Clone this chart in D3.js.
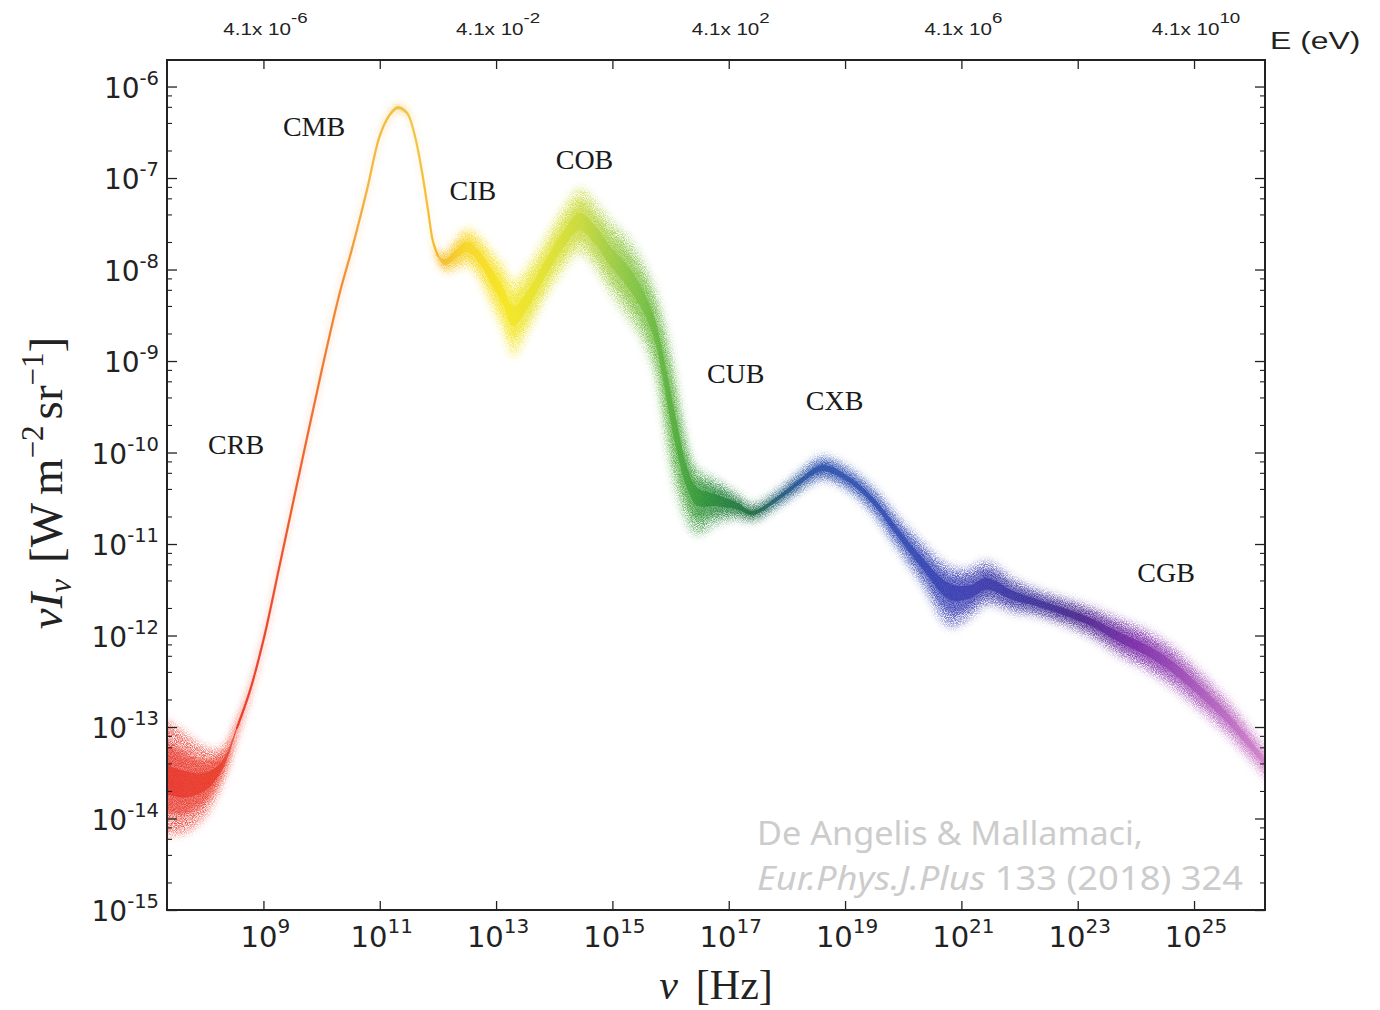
<!DOCTYPE html>
<html><head><meta charset="utf-8">
<script src="https://cdn.jsdelivr.net/npm/d3@7"></script>
<style>body{margin:0;background:#fff}svg{display:block}</style>
</head><body>
<svg id="c" width="1380" height="1010"></svg>
<script>
// ---- data (log10 units) ----
const logNu  = [7.20, 7.34, 7.65, 7.99, 8.29, 8.545, 8.77, 9.00, 9.28, 9.63, 10.01, 10.31, 10.52, 10.78, 11.00, 11.17, 11.31, 11.47, 11.60, 11.72, 11.83, 11.91, 12.00, 12.12, 12.29, 12.50, 12.72, 12.89, 13.12, 13.29, 13.54, 13.80, 14.15, 14.44, 14.70, 14.95, 15.25, 15.52, 15.73, 15.85, 15.98, 16.12, 16.28, 16.45, 16.79, 17.14, 17.41, 17.87, 18.22, 18.60, 19.03, 19.47, 19.88, 20.33, 20.80, 21.14, 21.43, 21.88, 22.29, 22.81, 23.25, 23.72, 24.18, 24.63, 25.09, 25.56, 25.90, 26.21, 26.32];
const logMid = [-13.55, -13.58, -13.63, -13.60, -13.42, -13.01, -12.60, -12.05, -11.23, -10.19, -9.08, -8.26, -7.78, -7.13, -6.54, -6.31, -6.23, -6.29, -6.53, -6.91, -7.35, -7.68, -7.85, -7.92, -7.84, -7.75, -7.87, -8.04, -8.28, -8.50, -8.33, -8.04, -7.68, -7.48, -7.62, -7.84, -8.06, -8.33, -8.66, -8.99, -9.43, -9.86, -10.25, -10.46, -10.52, -10.58, -10.66, -10.49, -10.32, -10.17, -10.28, -10.52, -10.85, -11.21, -11.50, -11.52, -11.44, -11.56, -11.64, -11.75, -11.86, -12.02, -12.16, -12.34, -12.60, -12.89, -13.14, -13.38, -13.47];
const spreadUp = [0.40, 0.38, 0.33, 0.22, 0.11, 0.044, 0.027, 0.02, 0.016, 0.016, 0.016, 0.016, 0.016, 0.016, 0.016, 0.016, 0.016, 0.016, 0.016, 0.016, 0.016, 0.016, 0.033, 0.066, 0.098, 0.12, 0.14, 0.16, 0.20, 0.22, 0.22, 0.20, 0.21, 0.22, 0.22, 0.23, 0.25, 0.25, 0.26, 0.30, 0.36, 0.32, 0.22, 0.17, 0.13, 0.077, 0.055, 0.055, 0.066, 0.077, 0.077, 0.087, 0.098, 0.13, 0.15, 0.15, 0.15, 0.11, 0.087, 0.087, 0.098, 0.12, 0.13, 0.13, 0.13, 0.12, 0.11, 0.10, 0.10];
const spreadDown = [0.37, 0.35, 0.31, 0.22, 0.11, 0.044, 0.027, 0.02, 0.016, 0.016, 0.016, 0.016, 0.016, 0.016, 0.016, 0.016, 0.016, 0.016, 0.016, 0.016, 0.016, 0.016, 0.033, 0.066, 0.098, 0.13, 0.15, 0.19, 0.24, 0.27, 0.22, 0.20, 0.20, 0.20, 0.22, 0.24, 0.27, 0.27, 0.28, 0.32, 0.38, 0.36, 0.30, 0.26, 0.15, 0.087, 0.055, 0.055, 0.066, 0.077, 0.077, 0.087, 0.11, 0.14, 0.24, 0.17, 0.13, 0.11, 0.087, 0.087, 0.098, 0.12, 0.13, 0.14, 0.13, 0.12, 0.11, 0.10, 0.10];

const colorNu  = [7.34, 9.0, 9.6, 10.3, 10.8, 11.5, 12.0, 12.5, 13.2, 14.0, 14.5, 15.0, 15.5, 16.1, 16.6, 17.4, 17.9, 18.4, 19.0, 20.0, 21.0, 22.0, 23.0, 24.0, 25.0, 26.2];
const colorHex = ["#e8352a", "#ea3d26", "#ec5a28", "#f0842c", "#f2b23a", "#f0c444", "#f5b620", "#f7d620", "#f5e61e", "#dce030", "#c4d838", "#9ccc40", "#78c040", "#4eaa38", "#2a9038", "#1c6c3e", "#1f5878", "#2850a8", "#2e50b0", "#3048b2", "#3a3cb2", "#3a34a0", "#48288e", "#7a2aa8", "#a452b8", "#d080c8"];

const xTickExp = [9, 11, 13, 15, 17, 19, 21, 23, 25];
const yTickExp = [-15, -14, -13, -12, -11, -10, -9, -8, -7, -6];
const yMinorMult = [2, 4, 6, 8];
const topTickExp = [9, 11, 13, 15, 17, 19, 21, 23, 25];
const topLabelExp = [9, 13, 17, 21, 25];
const topLabelText = ["-6", "-2", "2", "6", "10"];

const bgLabels = ["CRB", "CMB", "CIB", "COB", "CUB", "CXB", "CGB"];
const bgLabelNu = [8.53, 9.87, 12.60, 14.52, 17.12, 18.82, 24.52];
const bgLabelI  = [-10.02, -6.54, -7.24, -6.90, -9.24, -9.54, -11.42];

// ---- layout ----
const L = 167, R = 1265, T = 60, B = 910;
const svg = d3.select("#c");
const x = d3.scaleLog().domain([Math.pow(10, 7.342), Math.pow(10, 26.22)]).range([L, R]);
const y = d3.scaleLog().domain([1e-15, Math.pow(10, -5.71)]).range([B, T]);
const ppd = y(1e-15) - y(1e-14);

const defs = svg.append("defs");
defs.append("clipPath").attr("id", "plot").append("rect")
  .attr("x", L).attr("y", T).attr("width", R - L).attr("height", B - T);
const grad = defs.append("linearGradient").attr("id", "rainbow")
  .attr("gradientUnits", "userSpaceOnUse").attr("x1", L).attr("x2", R).attr("y1", 0).attr("y2", 0);
colorNu.forEach((n, i) => grad.append("stop")
  .attr("offset", (x(Math.pow(10, n)) - L) / (R - L)).attr("stop-color", colorHex[i]));

const sp = defs.append("filter").attr("id", "speckle").attr("filterUnits", "userSpaceOnUse")
  .attr("x", 0).attr("y", 0).attr("width", 1380).attr("height", 1010);
sp.append("feGaussianBlur").attr("in", "SourceGraphic").attr("stdDeviation", 4.5).attr("result", "b");
sp.append("feTurbulence").attr("type", "fractalNoise").attr("baseFrequency", 1.1).attr("numOctaves", 1).attr("seed", 7).attr("result", "n");
sp.append("feColorMatrix").attr("in", "n").attr("type", "matrix")
  .attr("values", "0 0 0 0 0  0 0 0 0 0  0 0 0 0 0  3.0 0 0 0 -0.95").attr("result", "m");
sp.append("feComposite").attr("in", "b").attr("in2", "m").attr("operator", "in");
const b2 = defs.append("filter").attr("id", "blur2").attr("x", "-5%").attr("y", "-20%").attr("width", "110%").attr("height", "140%");
b2.append("feGaussianBlur").attr("stdDeviation", 3);
const b1 = defs.append("filter").attr("id", "blur1").attr("x", "-5%").attr("y", "-20%").attr("width", "110%").attr("height", "140%");
b1.append("feGaussianBlur").attr("stdDeviation", 0.6);

const pts = logNu.map((n, i) => ({n, m: logMid[i], u: spreadUp[i], d: spreadDown[i]}));
function band(k, minPx) {
  return d3.area()
    .x(p => x(Math.pow(10, p.n)))
    .y1(p => y(Math.pow(10, p.m)) - Math.max(minPx, k * p.u * ppd))
    .y0(p => y(Math.pow(10, p.m)) + Math.max(minPx, k * p.d * ppd))
    .curve(d3.curveCatmullRom.alpha(0.5));
}
const g = svg.append("g").attr("clip-path", "url(#plot)");
g.append("path").attr("d", band(1.7, 2)(pts)).attr("fill", "url(#rainbow)").attr("opacity", 0.8).attr("filter", "url(#speckle)");
g.append("path").attr("d", band(1.05, 1.4)(pts)).attr("fill", "url(#rainbow)").attr("opacity", 0.6).attr("filter", "url(#blur2)");
g.append("path").attr("d", band(0.45, 1.6)(pts)).attr("fill", "url(#rainbow)").attr("opacity", 0.75).attr("filter", "url(#blur1)");
// narrow stretch (CRB -> CMB) drawn as a line so steep parts keep their width
const narrow = pts.filter(p => p.u <= 0.05);
g.append("path").attr("d", d3.line().x(p => x(Math.pow(10, p.n))).y(p => y(Math.pow(10, p.m)))
    .curve(d3.curveCatmullRom.alpha(0.5))(narrow))
  .attr("fill", "none").attr("stroke", "url(#rainbow)").attr("stroke-width", 2.3)
  .attr("stroke-linecap", "round").attr("opacity", 0.9).attr("filter", "url(#blur1)");

// ---- frame & ticks ----
const ink = "#222";
svg.append("rect").attr("x", L).attr("y", T).attr("width", R - L).attr("height", B - T)
  .attr("fill", "none").attr("stroke", ink).attr("stroke-width", 2);

const xt = xTickExp.map(e => Math.pow(10, e));
svg.append("g").attr("transform", `translate(0,${B})`)
  .call(d3.axisBottom(x).tickValues(xt).tickSize(-9).tickFormat(""))
  .call(s => { s.select(".domain").remove(); s.selectAll("line").attr("stroke", ink).attr("stroke-width", 1.3); });
svg.append("g").attr("transform", `translate(0,${T})`)
  .call(d3.axisTop(x).tickValues(topTickExp.map(e => Math.pow(10, e))).tickSize(-9).tickFormat(""))
  .call(s => { s.select(".domain").remove(); s.selectAll("line").attr("stroke", ink).attr("stroke-width", 1.3); });

const yMaj = yTickExp.map(e => Math.pow(10, e));
const yMin = [];
yTickExp.forEach(e => yMinorMult.forEach(m => { const v = m * Math.pow(10, e); if (v < y.domain()[1]) yMin.push(v); }));
[[d3.axisLeft, L], [d3.axisRight, R]].forEach(([ax, px]) => {
  svg.append("g").attr("transform", `translate(${px},0)`)
    .call(ax(y).tickValues(yMaj).tickSize(-10).tickFormat(""))
    .call(s => { s.select(".domain").remove(); s.selectAll("line").attr("stroke", ink).attr("stroke-width", 1.3); });
  svg.append("g").attr("transform", `translate(${px},0)`)
    .call(ax(y).tickValues(yMin).tickSize(-5).tickFormat(""))
    .call(s => { s.select(".domain").remove(); s.selectAll("line").attr("stroke", ink).attr("stroke-width", 1.1); });
});

// ---- tick labels ----
yTickExp.forEach(e => {
  const t = svg.append("text").attr("x", 159).attr("y", y(Math.pow(10, e)) + 11)
    .attr("text-anchor", "end").attr("font-family", "DejaVu Sans").attr("fill", ink);
  t.append("tspan").attr("font-size", 28).text("10");
  t.append("tspan").attr("font-size", 19.5).attr("dy", -13).text(String(e));
});
xTickExp.forEach(e => {
  const t = svg.append("text").attr("x", x(Math.pow(10, e)) + 2).attr("y", 947)
    .attr("text-anchor", "middle").attr("font-family", "DejaVu Sans").attr("fill", ink);
  t.append("tspan").attr("font-size", 29).text("10");
  t.append("tspan").attr("font-size", 20).attr("dy", -14).text(String(e));
});
topLabelExp.forEach((e, i) => {
  const gg = svg.append("g").attr("transform", `translate(${x(Math.pow(10, e)) + 2},35) scale(1.25,1)`);
  const t = gg.append("text").attr("text-anchor", "middle").attr("font-family", "Liberation Sans").attr("fill", ink);
  t.append("tspan").attr("font-size", 16.5).text("4.1x 10");
  t.append("tspan").attr("font-size", 15).attr("dy", -12).text(topLabelText[i]);
});
svg.append("g").attr("transform", "translate(1270,49) scale(1.33,1)")
  .append("text").attr("font-family", "Liberation Sans").attr("font-size", 24).attr("fill", ink).text("E (eV)");

// ---- axis titles ----
const serif = "Liberation Serif";
const yt = svg.append("text").attr("transform", "translate(62,483) rotate(-90)")
  .attr("text-anchor", "middle").attr("font-family", serif).attr("font-size", 47).attr("fill", ink);
yt.append("tspan").attr("font-style", "italic").text("ν");
yt.append("tspan").attr("font-style", "italic").text("I");
yt.append("tspan").attr("font-style", "italic").attr("font-size", 31).attr("dy", 9).text("ν");
yt.append("tspan").attr("dy", -9).attr("dx", 16).text("[W");
yt.append("tspan").attr("dx", 8).text("m");
yt.append("tspan").attr("font-size", 31).attr("dy", -19).text("−2");
yt.append("tspan").attr("dy", 19).attr("dx", 6).text("sr");
yt.append("tspan").attr("font-size", 31).attr("dy", -19).text("−1");
yt.append("tspan").attr("dy", 19).text("]");

const xtt = svg.append("text").attr("x", 716).attr("y", 999).attr("text-anchor", "middle")
  .attr("font-family", serif).attr("font-size", 42).attr("fill", ink);
xtt.append("tspan").attr("font-style", "italic").text("ν");
xtt.append("tspan").attr("dx", 18).text("[Hz]");

// ---- component labels ----
bgLabels.forEach((s, i) => {
  svg.append("text").attr("x", x(Math.pow(10, bgLabelNu[i]))).attr("y", y(Math.pow(10, bgLabelI[i])))
    .attr("text-anchor", "middle").attr("font-family", serif).attr("font-size", 28).attr("fill", "#1a1a1a").text(s);
});

// ---- credit ----
const cr = "#cccccc";
svg.append("text").attr("x", 757).attr("y", 845).attr("font-family", "Noto Sans").attr("font-size", 33)
  .attr("fill", cr).attr("textLength", 386).attr("lengthAdjust", "spacingAndGlyphs").text("De Angelis & Mallamaci,");
const c2 = svg.append("text").attr("x", 757).attr("y", 890).attr("font-family", "Noto Sans").attr("font-size", 33)
  .attr("fill", cr).attr("textLength", 486).attr("lengthAdjust", "spacingAndGlyphs");
c2.append("tspan").attr("font-style", "italic").text("Eur.Phys.J.Plus");
c2.append("tspan").text(" 133 (2018) 324");
</script>
</body></html>
